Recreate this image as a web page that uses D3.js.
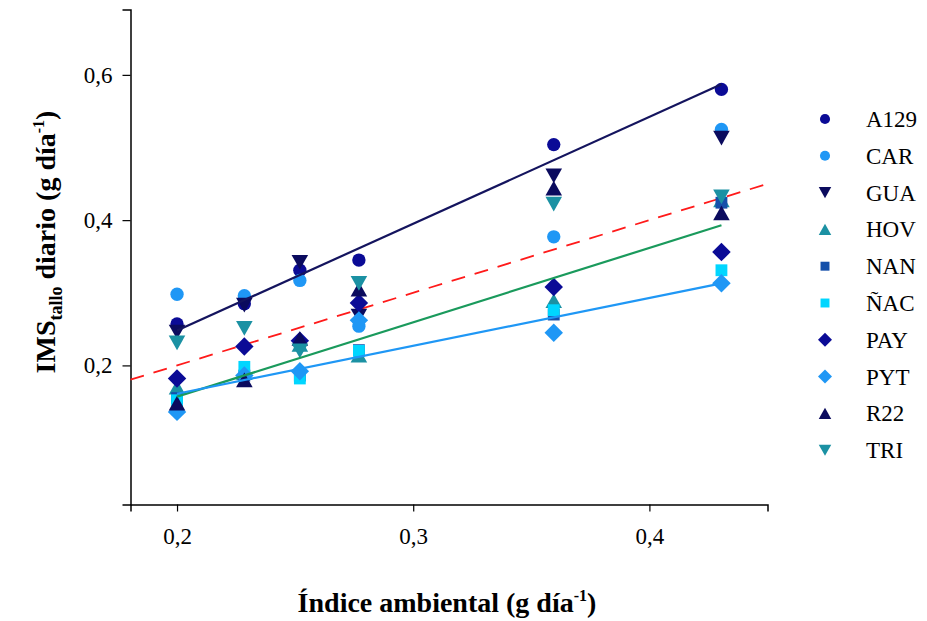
<!DOCTYPE html>
<html>
<head>
<meta charset="utf-8">
<script src="https://cdn.jsdelivr.net/npm/d3@7"></script>
<style>
  body { margin: 0; background: #fff; }
</style>
</head>
<body>
<div id="chart"></div>
<script>
// environmental index (x) for each site-year
var envIndex = [0.2, 0.2285, 0.252, 0.277, 0.3595, 0.4305];

var genotypes = ["A129", "CAR", "GUA", "HOV", "NAN", "ÑAC", "PAY", "PYT", "R22", "TRI"];

// daily stem dry matter for each genotype, one value per envIndex
var A129 = [0.257, 0.285, 0.331, 0.345, 0.504, 0.580];
var CAR  = [0.298, 0.296, 0.317, 0.254, 0.377, 0.525];
var GUA  = [0.246, 0.283, 0.342, 0.268, 0.461, 0.513];
var HOV  = [0.170, 0.190, 0.229, 0.214, 0.289, 0.428];
var NAN  = [0.155, 0.186, 0.186, 0.221, 0.270, 0.424];
var NAC  = [0.152, 0.198, 0.182, 0.220, 0.276, 0.331];
var PAY  = [0.182, 0.226, 0.234, 0.286, 0.308, 0.356];
var PYT  = [0.136, 0.186, 0.192, 0.262, 0.245, 0.313];
var R22  = [0.148, 0.180, 0.237, 0.305, 0.444, 0.410];
var TRI  = [0.231, 0.251, 0.220, 0.313, 0.422, 0.432];

var seriesValues = [A129, CAR, GUA, HOV, NAN, NAC, PAY, PYT, R22, TRI];

// fitted lines (endpoints)
var fitNavy  = [[0.2, 0.248], [0.4305, 0.587]];
var fitGreen = [[0.2, 0.157], [0.4305, 0.393]];
var fitBlue  = [[0.2, 0.161], [0.4305, 0.313]];
var oneToOne = [[0.1803, 0.1803], [0.45, 0.45]];

var xTicks = [0.2, 0.3, 0.4];
var yTicks = [0.2, 0.4, 0.6];

const WIDTH = 927;
const HEIGHT = 621;
const SERIF = "'Liberation Serif', 'DejaVu Serif', 'Times New Roman', Times, serif";

var colors = ["#0b0b96", "#1f97f5", "#0b0b5e", "#1b91a3", "#1550aa",
              "#00d6ff", "#0b0b96", "#1f97f5", "#0b0b5e", "#1b91a3"];
var shapes = ["circle", "circle", "down", "up", "square",
              "square", "diamond", "diamond", "up", "down"];

var svg = d3.select("#chart")
    .append("svg")
    .attr("width", WIDTH)
    .attr("height", HEIGHT)
    .attr("font-family", SERIF);

svg.append("rect").attr("width", WIDTH).attr("height", HEIGHT).attr("fill", "#fff");

var xScale = d3.scaleLinear().domain([0.1803, 0.45]).range([130.5, 767.5]),
    yScale = d3.scaleLinear().domain([0.0085, 0.69]).range([504.5, 9.5]);

function symbolPath(shape, size) {
    var s = size;
    if (shape == "circle") return d3.symbol(d3.symbolCircle, s)();
    if (shape == "square") return d3.symbol(d3.symbolSquare, s)();
    if (shape == "diamond") {
        var r = Math.sqrt(s) * 0.78;
        return "M0," + (-r) + "L" + r + ",0L0," + r + "L" + (-r) + ",0Z";
    }
    var h = Math.sqrt(s) * 0.62;
    var w = Math.sqrt(s) * 0.7;
    if (shape == "up") return "M0," + (-h) + "L" + w + "," + h + "L" + (-w) + "," + h + "Z";
    return "M0," + h + "L" + w + "," + (-h) + "L" + (-w) + "," + (-h) + "Z";
}

function commaFmt(d) { return d3.format(".1f")(d).replace(".", ","); }

// axes
var xAxis = svg.append("g")
    .attr("transform", "translate(0,504.5)")
    .call(d3.axisBottom(xScale).tickValues(xTicks).tickSize(7).tickPadding(16).tickFormat(commaFmt));
var yAxis = svg.append("g")
    .attr("transform", "translate(130.5,0)")
    .call(d3.axisLeft(yScale).tickValues(yTicks).tickSize(8).tickPadding(10).tickFormat(commaFmt));

[xAxis, yAxis].forEach(function (a) {
    a.attr("font-family", SERIF).attr("font-size", 23);
    a.select(".domain").attr("stroke", "#000").attr("stroke-width", 1.5);
    a.selectAll(".tick line").attr("stroke", "#000").attr("stroke-width", 1.2);
    a.selectAll(".tick text").attr("fill", "#000");
});

// axis titles
var xt = svg.append("text")
    .attr("x", 447)
    .attr("y", 612)
    .attr("text-anchor", "middle")
    .attr("font-size", 28)
    .attr("font-weight", "bold");
xt.append("tspan").text("Índice ambiental (g día");
xt.append("tspan").attr("dy", -11).attr("font-size", 16).text("-1");
xt.append("tspan").attr("dy", 11).text(")");

var yt = svg.append("text")
    .attr("transform", "translate(55,242) rotate(-90)")
    .attr("text-anchor", "middle")
    .attr("font-size", 28)
    .attr("font-weight", "bold");
yt.append("tspan").text("IMS");
yt.append("tspan").attr("dy", 7).attr("font-size", 18).text("tallo");
yt.append("tspan").attr("dy", -7).text(" diario (g día");
yt.append("tspan").attr("dy", -11).attr("font-size", 16).text("-1");
yt.append("tspan").attr("dy", 11).text(")");

// lines
var line = d3.line().x(function (d) { return xScale(d[0]); }).y(function (d) { return yScale(d[1]); });

svg.append("path").datum(oneToOne).attr("d", line)
    .attr("fill", "none").attr("stroke", "#ff1a1a").attr("stroke-width", 1.8)
    .attr("stroke-dasharray", "14,10");

// points
genotypes.forEach(function (g, i) {
    svg.append("g")
        .selectAll("path")
        .data(seriesValues[i])
        .enter()
        .append("path")
        .attr("d", symbolPath(shapes[i], 140))
        .attr("transform", function (d, j) { return "translate(" + xScale(envIndex[j]) + "," + yScale(d) + ")"; })
        .attr("fill", colors[i]);
});

svg.append("path").datum(fitNavy).attr("d", line)
    .attr("fill", "none").attr("stroke", "#14145e").attr("stroke-width", 2.2);
svg.append("path").datum(fitGreen).attr("d", line)
    .attr("fill", "none").attr("stroke", "#1a9a5c").attr("stroke-width", 2.2);
svg.append("path").datum(fitBlue).attr("d", line)
    .attr("fill", "none").attr("stroke", "#1f97f5").attr("stroke-width", 2.2);

// legend
var legend = svg.append("g").attr("transform", "translate(825,119)");
var rows = legend.selectAll("g").data(genotypes).enter().append("g")
    .attr("transform", function (d, i) { return "translate(0," + (i * 36.8) + ")"; });
rows.append("path")
    .attr("d", function (d, i) { return symbolPath(shapes[i], 80); })
    .attr("fill", function (d, i) { return colors[i]; });
rows.append("text")
    .attr("x", 41)
    .attr("y", 8)
    .attr("font-size", 23)
    .text(function (d) { return d; });
</script>
</body>
</html>
